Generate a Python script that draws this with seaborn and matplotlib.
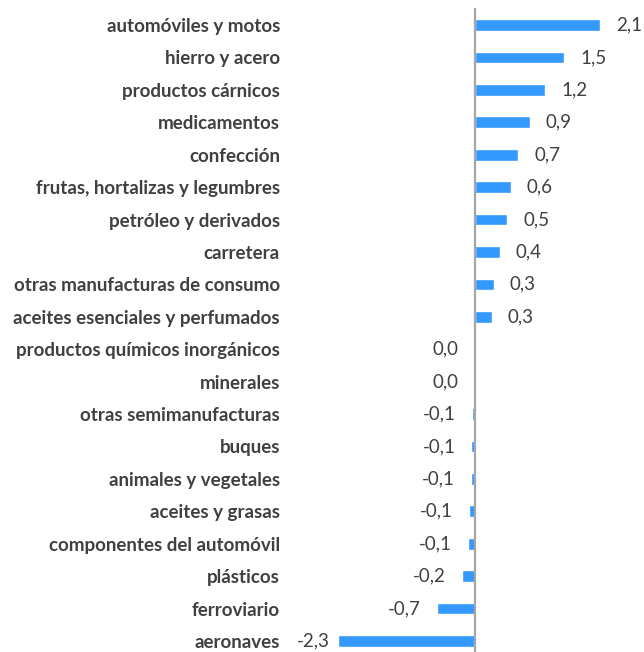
import pandas as pd
import numpy as np
import matplotlib
matplotlib.use("Agg")
import matplotlib.pyplot as plt
import seaborn as sns

categories = [
    "automóviles y motos", "hierro y acero", "productos cárnicos", "medicamentos",
    "confección", "frutas, hortalizas y legumbres", "petróleo y derivados", "carretera",
    "otras manufacturas de consumo", "aceites esenciales y perfumados",
    "productos químicos inorgánicos", "minerales", "otras semimanufacturas", "buques",
    "animales y vegetales", "aceites y grasas", "componentes del automóvil",
    "plásticos", "ferroviario", "aeronaves",
]
values = [2.12, 1.51, 1.19, 0.93, 0.73, 0.61, 0.55, 0.42, 0.32, 0.28,
          -0.004, -0.003, -0.05, -0.06, -0.07, -0.10, -0.12, -0.22, -0.65, -2.33]
labels = ["2,1", "1,5", "1,2", "0,9", "0,7", "0,6", "0,5", "0,4", "0,3", "0,3",
          "0,0", "0,0", "-0,1", "-0,1", "-0,1", "-0,1", "-0,1", "-0,2", "-0,7", "-2,3"]

df = pd.DataFrame({"cat": categories, "val": values})

sns.set_style("white")
plt.rcParams['font.family'] = ['Lato', 'DejaVu Sans']
text_color = "#404040"

fig = plt.figure(figsize=(6.44, 6.52), dpi=100)
ax = fig.add_axes([330 / 644, 0, 310 / 644, 644 / 652])

sns.barplot(data=df, y="cat", x="val", orient="h", color="#3399FF",
            saturation=1, width=0.36, ax=ax)

ax.set_xlim(-(475 - 330) / 59, (640 - 475) / 59)
ax.set_ylim(19 + 11 / 32.4, -17 / 32.4)
ax.axvline(0, color="#A6A6A6", lw=1.6)

# value labels outside bar ends, like excel
gap = 0.27
for i, (v, lab) in enumerate(zip(values, labels)):
    if v > 0:
        ax.text(v + gap, i, lab, va="center", ha="left", fontsize=13.5, color=text_color)
    else:
        ax.text(max(v - gap, -2.46), i, lab, va="center", ha="right",
                fontsize=13.5, color=text_color)

ax.set_xlabel("")
ax.set_ylabel("")
ax.set_xticks([])
ax.tick_params(axis="y", length=0, pad=36)
for t in ax.get_yticklabels():
    t.set_fontweight("bold")
    t.set_fontsize(13.5)
    t.set_color(text_color)
sns.despine(ax=ax, left=True, bottom=True)

fig.savefig("out.png", dpi=100)
